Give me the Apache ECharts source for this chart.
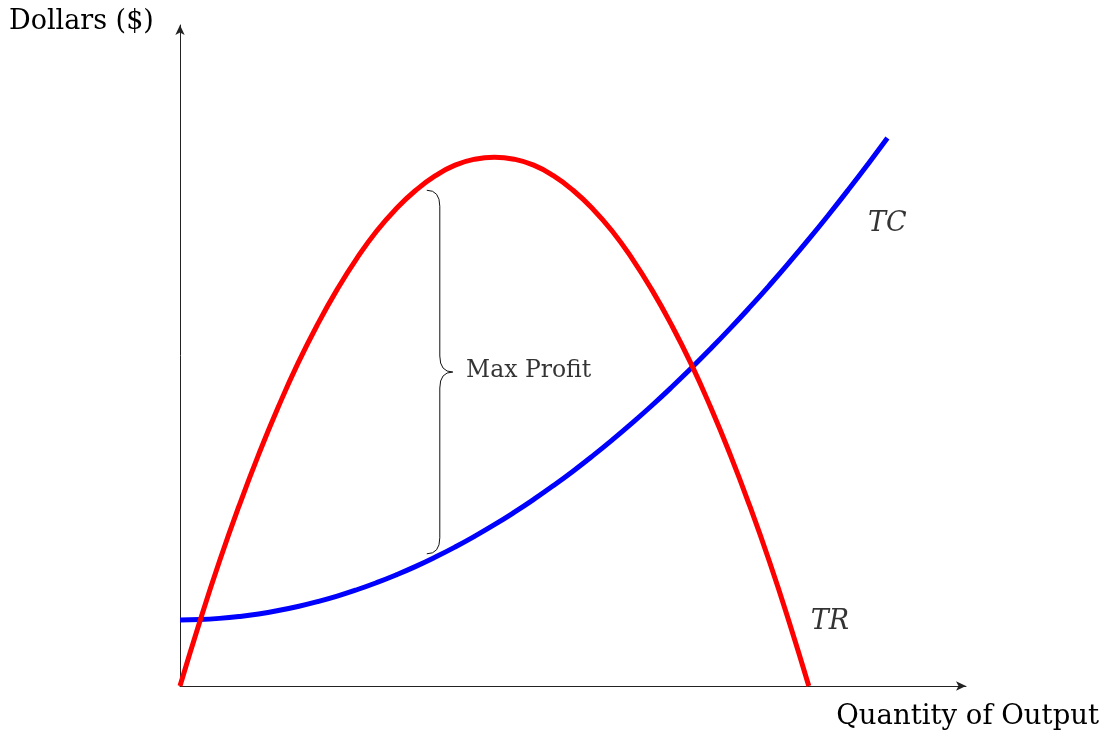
<!DOCTYPE html>
<html>
<head>
<meta charset="utf-8">
<script src="https://cdn.jsdelivr.net/npm/echarts@6/dist/echarts.min.js"></script>
<style>
  html, body { margin: 0; padding: 0; background: #fff; }
  #chart { width: 1106px; height: 738px; }
</style>
</head>
<body>
<div id="chart"></div>
<script>
// values
var qty = [0, 0.25, 0.5, 0.75, 1, 1.25, 1.5, 1.75, 2, 2.25, 2.5, 2.75, 3, 3.25, 3.5, 3.75, 4,
	4.25, 4.5, 4.75, 5, 5.25, 5.5, 5.75, 6, 6.25, 6.5, 6.75, 7, 7.25, 7.5, 7.75, 8, 8.25, 8.5, 8.75, 9]
var totalRevenue = [0, 0.97, 1.88, 2.72, 3.5, 4.22, 4.88, 5.47, 6, 6.47, 6.88, 7.22, 7.5, 7.72, 7.88, 7.97, 8,
	7.97, 7.88, 7.72, 7.5, 7.22, 6.88, 6.47, 6, 5.47, 4.88, 4.22, 3.5, 2.72, 1.88, 0.97, 0]
var totalCost = [1, 1.006, 1.023, 1.051, 1.09, 1.141, 1.203, 1.276, 1.36, 1.456, 1.563, 1.681, 1.81, 1.951, 2.103, 2.266, 2.44,
	2.626, 2.823, 3.031, 3.25, 3.481, 3.723, 3.976, 4.24, 4.516, 4.803, 5.101, 5.41, 5.731, 6.063, 6.406, 6.76, 7.126, 7.503, 7.891, 8.29]
// brace: x, low, high
var braceData = [[3.14, 2.0, 7.5]]
// curve labels: x, y, text
var curveLabels = [[9.0, 6.99, 'TC'], [8.27, 0.97, 'TR']]
var braceLabel = [[3.64, 4.76, 'Max Profit']]

var serif = '"DejaVu Serif", "Liberation Serif", serif'

function pairs(xs, ys) {
	return ys.map(function (y, i) { return [xs[i], y] })
}

var chart = echarts.init(document.getElementById('chart'))
var option = {
	animation: false,
	grid: { left: 180, right: 140, top: 25, bottom: 52 },
	xAxis: {
		type: 'value',
		min: 0,
		max: 10,
		splitLine: { show: false },
		axisTick: { show: false },
		axisLabel: { show: false },
		axisLine: {
			onZero: false,
			symbol: ['none', 'arrow'],
			symbolSize: [7, 10],
			lineStyle: { color: '#222', width: 1 },
		},
	},
	yAxis: {
		type: 'value',
		min: 0,
		max: 10,
		splitLine: { show: false },
		axisTick: { show: false },
		axisLabel: { show: false },
		axisLine: {
			show: true,
			onZero: false,
			symbol: ['none', 'arrow'],
			symbolSize: [7, 10],
			lineStyle: { color: '#222', width: 1 },
		},
	},
	graphic: [
		{
			type: 'text',
			x: 9,
			y: 22,
			style: { text: 'Dollars ($)', font: '27px ' + serif, fill: '#000', verticalAlign: 'middle' },
		},
		{
			type: 'text',
			x: 1099,
			y: 717,
			style: { text: 'Quantity of Output', font: '27.5px ' + serif, fill: '#000', align: 'right', verticalAlign: 'middle' },
		},
	],
	series: [
		{
			name: 'TC',
			type: 'line',
			smooth: 0.5,
			symbol: 'none',
			lineStyle: { color: '#0000ff', width: 5 },
			data: pairs(qty, totalCost),
			z: 2,
		},
		{
			name: 'TR',
			type: 'line',
			smooth: 0.5,
			symbol: 'none',
			lineStyle: { color: '#ff0000', width: 5 },
			data: pairs(qty, totalRevenue),
			z: 3,
		},
		{
			type: 'custom',
			data: braceData,
			z: 4,
			renderItem: function (params, api) {
				var top = api.coord([api.value(0), api.value(2)])
				var bot = api.coord([api.value(0), api.value(1)])
				var x0 = top[0], yt = top[1], yb = bot[1]
				var ym = (yt + yb) / 2
				var w = 13
				var d = 'M' + x0 + ',' + yt +
					' Q' + (x0 + w) + ',' + yt + ' ' + (x0 + w) + ',' + (yt + 16) +
					' L' + (x0 + w) + ',' + (ym - 16) +
					' Q' + (x0 + w) + ',' + ym + ' ' + (x0 + 2 * w) + ',' + ym +
					' Q' + (x0 + w) + ',' + ym + ' ' + (x0 + w) + ',' + (ym + 16) +
					' L' + (x0 + w) + ',' + (yb - 16) +
					' Q' + (x0 + w) + ',' + yb + ' ' + x0 + ',' + yb
				return {
					type: 'path',
					shape: { pathData: d },
					style: { fill: 'none', stroke: '#111', lineWidth: 1 },
				}
			},
		},
		{
			type: 'scatter',
			symbolSize: 0,
			data: curveLabels,
			z: 5,
			label: {
				show: true,
				position: 'inside',
				formatter: function (p) { return p.value[2] },
				fontFamily: serif,
				fontStyle: 'italic',
				fontSize: 27,
				color: '#000',
			},
		},
		{
			type: 'scatter',
			symbolSize: 0,
			data: braceLabel,
			z: 5,
			label: {
				show: true,
				position: 'right',
				distance: 0,
				formatter: function (p) { return p.value[2] },
				fontFamily: serif,
				fontSize: 23.5,
				color: '#000',
			},
		},
	],
}
chart.setOption(option)
</script>
</body>
</html>
